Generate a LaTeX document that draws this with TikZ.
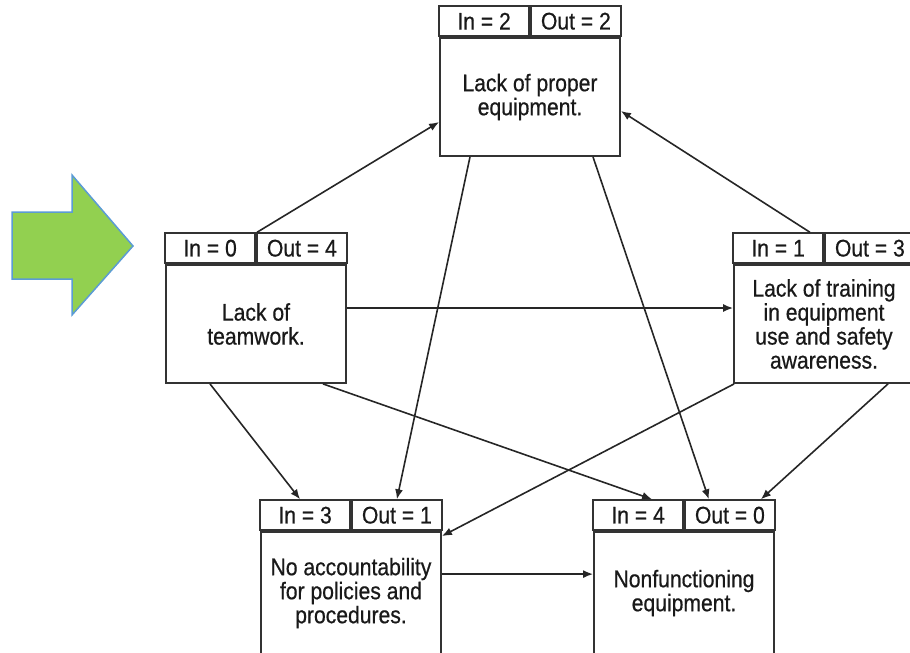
\documentclass[tikz,border=0pt]{standalone}
\usepackage{fontspec}
\setmainfont{Liberation Sans}[FakeStretch=0.88,FakeBold=0.6]
\usetikzlibrary{arrows.meta}
\begin{document}
\begin{tikzpicture}[x=1pt,y=-1pt,
    body/.style={draw=black!80,line width=1.8pt,minimum width=180pt,minimum height=118pt,
      align=center,inner sep=0pt,text=black!90,font=\fontsize{24}{24}\selectfont},
    cell/.style={draw=black!80,line width=1.8pt,minimum width=90pt,minimum height=30pt,
      inner sep=0pt,text=black!90,font=\fontsize{24}{24}\selectfont},
    link/.style={->,line width=1.6pt,black!85},
    >={Latex[length=10pt,width=8pt]}]
    \useasboundingbox (0,0) rectangle (910,653);
    \clip (0,0) rectangle (910,653);

    % green arrow
    \draw[fill={rgb,255:red,146;green,208;blue,80},draw={rgb,255:red,91;green,155;blue,213},line width=1.5pt]
      (12,212) -- (72,212) -- (72,175) -- (133,246) -- (72,315) -- (72,279) -- (12,279) -- cycle;

    % boxes
    \node[body] (equip) at (530,97) {Lack of proper\\equipment.};
    \node[cell,anchor=south east] (equip-in) at (equip.north) {In = 2};
    \node[cell,anchor=south west] (equip-out) at (equip.north) {Out = 2};

    \node[body] (team) at (256,324) {Lack of\\teamwork.};
    \node[cell,anchor=south east] (team-in) at (team.north) {In = 0};
    \node[cell,anchor=south west] (team-out) at (team.north) {Out = 4};

    \node[body] (train) at (824,324) {Lack of training\\in equipment\\use and safety\\awareness.};
    \node[cell,anchor=south east] (train-in) at (train.north) {In = 1};
    \node[cell,anchor=south west] (train-out) at (train.north) {Out = 3};

    \node[body,minimum height=122pt] (acct) at (351,593) {No accountability\\for policies and\\procedures.};
    \node[cell,anchor=south east] (acct-in) at (acct.north) {In = 3};
    \node[cell,anchor=south west] (acct-out) at (acct.north) {Out = 1};

    \node[body,minimum height=122pt] (nonf) at (684,593) {Nonfunctioning\\equipment.};
    \node[cell,anchor=south east] (nonf-in) at (nonf.north) {In = 4};
    \node[cell,anchor=south west] (nonf-out) at (nonf.north) {Out = 0};

    % links
    \draw[link] ([xshift=1pt]team-out.north west) -- ([yshift=-25pt]equip.west);
    \draw[link] ([xshift=-14pt]train-out.north west) -- ([yshift=-14pt]equip.east);
    \draw[link] ([yshift=16pt]team.east) -- ([yshift=16pt]train.west);
    \draw[link] ([xshift=-60pt]equip.south) -- (acct-out.north);
    \draw[link] ([xshift=63pt]equip.south) -- ([xshift=-21pt]nonf-out.north);
    \draw[link] ([xshift=-46pt]team.south) -- ([xshift=-5pt]acct-in.north);
    \draw[link] ([xshift=67pt]team.south) -- ([xshift=14pt]nonf-in.north);
    \draw[link] ([xshift=1pt]train.south west) -- ([yshift=-5pt]acct.north east);
    \draw[link] ([xshift=64pt]train.south) -- ([xshift=31pt]nonf-out.north);
    \draw[link] ([yshift=-43pt]acct.north east) -- ([yshift=-43pt]nonf.north west);
\end{tikzpicture}
\end{document}
